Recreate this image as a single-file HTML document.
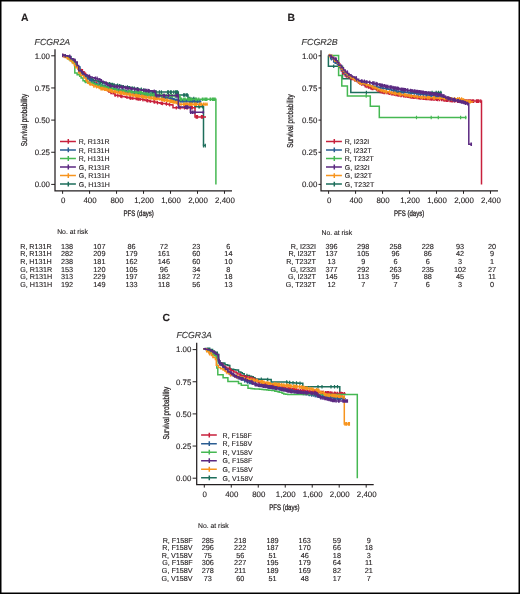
<!DOCTYPE html>
<html><head><meta charset="utf-8"><title>Survival curves</title>
<style>html,body{margin:0;padding:0;background:#fff;}body{width:520px;height:594px;overflow:hidden;font-family:"Liberation Sans",sans-serif;}svg{display:block;}svg{will-change:transform}</style>
</head><body>
<svg width="520" height="594" viewBox="0 0 520 594" font-family="Liberation Sans, sans-serif" fill="#231f20" text-rendering="geometricPrecision"><rect x="0.75" y="0.75" width="518.5" height="592.5" fill="#fff" stroke="#000" stroke-width="1.5"/>
<text x="21.00" y="20.90" font-size="10.4" font-weight="bold" stroke="#231f20" stroke-width="0.12">A</text>
<text x="34.60" y="44.70" font-size="8.8" textLength="35.6" lengthAdjust="spacingAndGlyphs" font-style="italic" fill="#3c3c3c" stroke="#231f20" stroke-width="0.12">FCGR2A</text>
<text x="50.00" y="58.65" font-size="7.9" text-anchor="end" stroke="#231f20" stroke-width="0.12">1.00</text>
<text x="50.00" y="90.80" font-size="7.9" text-anchor="end" stroke="#231f20" stroke-width="0.12">0.75</text>
<text x="50.00" y="122.95" font-size="7.9" text-anchor="end" stroke="#231f20" stroke-width="0.12">0.50</text>
<text x="50.00" y="155.10" font-size="7.9" text-anchor="end" stroke="#231f20" stroke-width="0.12">0.25</text>
<text x="50.00" y="187.25" font-size="7.9" text-anchor="end" stroke="#231f20" stroke-width="0.12">0.00</text>
<text x="63.10" y="202.90" font-size="7.9" text-anchor="middle" stroke="#231f20" stroke-width="0.12">0</text>
<text x="90.08" y="202.90" font-size="7.9" text-anchor="middle" stroke="#231f20" stroke-width="0.12">400</text>
<text x="117.06" y="202.90" font-size="7.9" text-anchor="middle" stroke="#231f20" stroke-width="0.12">800</text>
<text x="144.04" y="202.90" font-size="7.9" text-anchor="middle" stroke="#231f20" stroke-width="0.12">1,200</text>
<text x="171.02" y="202.90" font-size="7.9" text-anchor="middle" stroke="#231f20" stroke-width="0.12">1,600</text>
<text x="198.00" y="202.90" font-size="7.9" text-anchor="middle" stroke="#231f20" stroke-width="0.12">2,000</text>
<text x="224.98" y="202.90" font-size="7.9" text-anchor="middle" stroke="#231f20" stroke-width="0.12">2,400</text>
<path d="M55.00 49.30V190.90H232.00" fill="none" stroke="#231f20" stroke-width="1.25"/>
<path d="M51.20 55.80H55.00" stroke="#231f20" stroke-width="1"/>
<path d="M51.20 87.95H55.00" stroke="#231f20" stroke-width="1"/>
<path d="M51.20 120.10H55.00" stroke="#231f20" stroke-width="1"/>
<path d="M51.20 152.25H55.00" stroke="#231f20" stroke-width="1"/>
<path d="M51.20 184.40H55.00" stroke="#231f20" stroke-width="1"/>
<path d="M62.60 190.90V193.80" stroke="#231f20" stroke-width="1"/>
<path d="M89.58 190.90V193.80" stroke="#231f20" stroke-width="1"/>
<path d="M116.56 190.90V193.80" stroke="#231f20" stroke-width="1"/>
<path d="M143.54 190.90V193.80" stroke="#231f20" stroke-width="1"/>
<path d="M170.52 190.90V193.80" stroke="#231f20" stroke-width="1"/>
<path d="M197.50 190.90V193.80" stroke="#231f20" stroke-width="1"/>
<path d="M224.48 190.90V193.80" stroke="#231f20" stroke-width="1"/>
<text x="138.70" y="216.00" font-size="8.0" text-anchor="middle" textLength="30.3" lengthAdjust="spacingAndGlyphs" stroke="#231f20" stroke-width="0.28">PFS (days)</text>
<text x="0" y="0" font-size="8.5" text-anchor="middle" stroke="#231f20" stroke-width="0.28" textLength="52.3" lengthAdjust="spacingAndGlyphs" transform="translate(26.90 120.00) rotate(-90)">Survival probability</text>
<text x="287.60" y="20.80" font-size="10.4" font-weight="bold" stroke="#231f20" stroke-width="0.12">B</text>
<text x="301.50" y="44.80" font-size="8.8" textLength="36.2" lengthAdjust="spacingAndGlyphs" font-style="italic" fill="#3c3c3c" stroke="#231f20" stroke-width="0.12">FCGR2B</text>
<text x="317.30" y="58.65" font-size="7.9" text-anchor="end" stroke="#231f20" stroke-width="0.12">1.00</text>
<text x="317.30" y="90.80" font-size="7.9" text-anchor="end" stroke="#231f20" stroke-width="0.12">0.75</text>
<text x="317.30" y="122.95" font-size="7.9" text-anchor="end" stroke="#231f20" stroke-width="0.12">0.50</text>
<text x="317.30" y="155.10" font-size="7.9" text-anchor="end" stroke="#231f20" stroke-width="0.12">0.25</text>
<text x="317.30" y="187.25" font-size="7.9" text-anchor="end" stroke="#231f20" stroke-width="0.12">0.00</text>
<text x="329.10" y="202.90" font-size="7.9" text-anchor="middle" stroke="#231f20" stroke-width="0.12">0</text>
<text x="356.08" y="202.90" font-size="7.9" text-anchor="middle" stroke="#231f20" stroke-width="0.12">400</text>
<text x="383.06" y="202.90" font-size="7.9" text-anchor="middle" stroke="#231f20" stroke-width="0.12">800</text>
<text x="410.04" y="202.90" font-size="7.9" text-anchor="middle" stroke="#231f20" stroke-width="0.12">1,200</text>
<text x="437.02" y="202.90" font-size="7.9" text-anchor="middle" stroke="#231f20" stroke-width="0.12">1,600</text>
<text x="464.00" y="202.90" font-size="7.9" text-anchor="middle" stroke="#231f20" stroke-width="0.12">2,000</text>
<text x="490.98" y="202.90" font-size="7.9" text-anchor="middle" stroke="#231f20" stroke-width="0.12">2,400</text>
<path d="M321.00 50.20V190.90H498.00" fill="none" stroke="#231f20" stroke-width="1.25"/>
<path d="M318.50 55.80H321.00" stroke="#231f20" stroke-width="1"/>
<path d="M318.50 87.95H321.00" stroke="#231f20" stroke-width="1"/>
<path d="M318.50 120.10H321.00" stroke="#231f20" stroke-width="1"/>
<path d="M318.50 152.25H321.00" stroke="#231f20" stroke-width="1"/>
<path d="M318.50 184.40H321.00" stroke="#231f20" stroke-width="1"/>
<path d="M328.60 190.90V193.80" stroke="#231f20" stroke-width="1"/>
<path d="M355.58 190.90V193.80" stroke="#231f20" stroke-width="1"/>
<path d="M382.56 190.90V193.80" stroke="#231f20" stroke-width="1"/>
<path d="M409.54 190.90V193.80" stroke="#231f20" stroke-width="1"/>
<path d="M436.52 190.90V193.80" stroke="#231f20" stroke-width="1"/>
<path d="M463.50 190.90V193.80" stroke="#231f20" stroke-width="1"/>
<path d="M490.48 190.90V193.80" stroke="#231f20" stroke-width="1"/>
<text x="409.10" y="216.30" font-size="8.0" text-anchor="middle" textLength="30.3" lengthAdjust="spacingAndGlyphs" stroke="#231f20" stroke-width="0.28">PFS (days)</text>
<text x="0" y="0" font-size="8.5" text-anchor="middle" stroke="#231f20" stroke-width="0.28" textLength="53.3" lengthAdjust="spacingAndGlyphs" transform="translate(293.00 121.10) rotate(-90)">Survival probability</text>
<text x="162.60" y="321.40" font-size="10.4" font-weight="bold" stroke="#231f20" stroke-width="0.12">C</text>
<text x="176.50" y="338.30" font-size="8.8" textLength="35.3" lengthAdjust="spacingAndGlyphs" font-style="italic" fill="#3c3c3c" stroke="#231f20" stroke-width="0.12">FCGR3A</text>
<text x="191.40" y="352.45" font-size="7.9" text-anchor="end" stroke="#231f20" stroke-width="0.12">1.00</text>
<text x="191.40" y="384.60" font-size="7.9" text-anchor="end" stroke="#231f20" stroke-width="0.12">0.75</text>
<text x="191.40" y="416.75" font-size="7.9" text-anchor="end" stroke="#231f20" stroke-width="0.12">0.50</text>
<text x="191.40" y="448.90" font-size="7.9" text-anchor="end" stroke="#231f20" stroke-width="0.12">0.25</text>
<text x="191.40" y="481.05" font-size="7.9" text-anchor="end" stroke="#231f20" stroke-width="0.12">0.00</text>
<text x="204.80" y="496.70" font-size="7.9" text-anchor="middle" stroke="#231f20" stroke-width="0.12">0</text>
<text x="231.78" y="496.70" font-size="7.9" text-anchor="middle" stroke="#231f20" stroke-width="0.12">400</text>
<text x="258.76" y="496.70" font-size="7.9" text-anchor="middle" stroke="#231f20" stroke-width="0.12">800</text>
<text x="285.74" y="496.70" font-size="7.9" text-anchor="middle" stroke="#231f20" stroke-width="0.12">1,200</text>
<text x="312.72" y="496.70" font-size="7.9" text-anchor="middle" stroke="#231f20" stroke-width="0.12">1,600</text>
<text x="339.70" y="496.70" font-size="7.9" text-anchor="middle" stroke="#231f20" stroke-width="0.12">2,000</text>
<text x="366.68" y="496.70" font-size="7.9" text-anchor="middle" stroke="#231f20" stroke-width="0.12">2,400</text>
<path d="M196.70 342.80V484.70H373.70" fill="none" stroke="#231f20" stroke-width="1.25"/>
<path d="M192.60 349.60H196.70" stroke="#231f20" stroke-width="1"/>
<path d="M192.60 381.75H196.70" stroke="#231f20" stroke-width="1"/>
<path d="M192.60 413.90H196.70" stroke="#231f20" stroke-width="1"/>
<path d="M192.60 446.05H196.70" stroke="#231f20" stroke-width="1"/>
<path d="M192.60 478.20H196.70" stroke="#231f20" stroke-width="1"/>
<path d="M204.30 484.70V487.60" stroke="#231f20" stroke-width="1"/>
<path d="M231.28 484.70V487.60" stroke="#231f20" stroke-width="1"/>
<path d="M258.26 484.70V487.60" stroke="#231f20" stroke-width="1"/>
<path d="M285.24 484.70V487.60" stroke="#231f20" stroke-width="1"/>
<path d="M312.22 484.70V487.60" stroke="#231f20" stroke-width="1"/>
<path d="M339.20 484.70V487.60" stroke="#231f20" stroke-width="1"/>
<path d="M366.18 484.70V487.60" stroke="#231f20" stroke-width="1"/>
<text x="284.40" y="510.20" font-size="8.0" text-anchor="middle" textLength="30.3" lengthAdjust="spacingAndGlyphs" stroke="#231f20" stroke-width="0.28">PFS (days)</text>
<text x="0" y="0" font-size="8.5" text-anchor="middle" stroke="#231f20" stroke-width="0.28" textLength="52.8" lengthAdjust="spacingAndGlyphs" transform="translate(168.60 413.20) rotate(-90)">Survival probability</text>
<path d="M62.30 55.30H64.14V55.77H65.99V56.23H68.60V56.70H70.96V58.63H72.23V60.57H75.00V62.50H77.00V67.00H79.20V72.10H81.49V73.53H83.46V74.97H85.90V76.40H87.24V77.53H89.78V78.67H91.70V79.80H93.21V80.43H96.06V81.07H98.40V81.70H100.08V82.20H102.51V82.70H105.47V83.20H108.00V83.70H110.61V84.12H111.69V84.55H113.96V84.97H116.69V85.40H119.29V85.83H120.86V86.25H122.72V86.67H125.00V87.10H127.86V87.43H128.61V87.76H131.97V88.09H133.26V88.41H135.18V88.74H137.28V89.07H140.00V89.40H141.73V89.94H144.44V90.48H145.55V91.02H148.11V91.56H150.00V92.10H178.30V95.00H188.00V98.60H195.00V106.80H203.50V145.60H205.80" fill="none" stroke="#1d6e5b" stroke-width="1.5" stroke-linejoin="miter"/>
<path d="M74.95 58.77v3.60M85.08 73.17v3.60M88.93 75.73v3.60M90.10 76.87v3.60M92.86 78.00v3.60M98.08 79.27v3.60M100.44 80.40v3.60M100.64 80.40v3.60M104.26 80.90v3.60M102.52 80.90v3.60M109.35 81.90v3.60M109.77 81.90v3.60M112.58 82.75v3.60M111.93 82.75v3.60M114.15 83.17v3.60M117.57 83.60v3.60M119.53 84.03v3.60M120.91 84.45v3.60M123.06 84.88v3.60M123.51 84.88v3.60M127.43 85.30v3.60M128.89 85.96v3.60M129.76 85.96v3.60M132.17 86.29v3.60M134.27 86.61v3.60M134.30 86.61v3.60M137.24 86.94v3.60M137.99 87.27v3.60M137.74 87.27v3.60M141.35 87.60v3.60M143.93 88.14v3.60M145.34 88.68v3.60M146.13 89.22v3.60M146.46 89.22v3.60M148.64 89.76v3.60M177.07 90.30v3.60M176.52 90.30v3.60M177.03 90.30v3.60M156.24 90.30v3.60M155.57 90.30v3.60M167.66 90.30v3.60M173.78 90.30v3.60M168.48 90.30v3.60M152.40 90.30v3.60M175.75 90.30v3.60M171.23 90.30v3.60M155.05 90.30v3.60M159.41 90.30v3.60M177.50 90.30v3.60M161.36 90.30v3.60M170.51 90.30v3.60M153.60 90.30v3.60M175.61 90.30v3.60M186.32 93.20v3.60M184.68 93.20v3.60M183.62 93.20v3.60M178.44 93.20v3.60M184.60 93.20v3.60M187.36 93.20v3.60M193.78 96.80v3.60M189.76 96.80v3.60M189.68 96.80v3.60M189.82 96.80v3.60M188.92 96.80v3.60M198.89 105.00v3.60M202.69 105.00v3.60M202.80 105.00v3.60M199.52 105.00v3.60M195.16 105.00v3.60M203.51 143.80v3.60M205.30 143.80v3.60" stroke="#1d6e5b" stroke-width="1.2"/>
<path d="M62.30 55.60H64.34V56.55H67.60V57.50H70.00V59.25H72.50V61.00H74.53V63.50H76.00V66.00H78.20V69.20H80.60V69.70H82.37V71.65H84.00V73.60H85.67V76.00H87.82V78.40H89.70V80.80H92.19V82.00H94.50V83.20H96.84V84.65H98.40V86.10H99.78V87.30H102.20V88.50H104.21V89.30H105.73V90.10H108.00V90.90H109.97V92.33H113.11V93.77H115.00V95.20H117.15V95.61H119.38V96.03H121.82V96.44H124.19V96.86H125.63V97.27H128.03V97.69H130.00V98.10H132.01V98.32H134.02V98.54H136.27V98.76H137.93V98.98H140.00V99.20H142.56V99.80H145.00V100.40H147.11V100.80H149.95V101.20H151.73V101.60H154.14V102.00H156.38V102.40H157.50V102.80H160.00V103.20H162.50V103.56H165.54V103.92H167.77V104.28H168.99V104.64H172.00V105.00H173.00V107.70H195.00V116.90H206.00" fill="none" stroke="#c8203c" stroke-width="1.5" stroke-linejoin="miter"/>
<path d="M63.20 53.80v3.60M84.85 71.80v3.60M96.41 81.40v3.60M105.43 87.50v3.60M108.67 89.10v3.60M110.81 90.53v3.60M111.62 90.53v3.60M115.11 93.40v3.60M117.83 93.81v3.60M120.60 94.23v3.60M121.86 94.64v3.60M126.95 95.47v3.60M129.87 95.89v3.60M130.87 96.30v3.60M132.80 96.52v3.60M136.23 96.74v3.60M137.45 96.96v3.60M138.65 97.18v3.60M140.18 97.40v3.60M142.96 98.00v3.60M146.84 98.60v3.60M147.80 99.00v3.60M150.23 99.40v3.60M154.04 99.80v3.60M154.68 100.20v3.60M157.50 101.00v3.60M161.26 101.40v3.60M162.52 101.76v3.60M166.43 102.12v3.60M169.69 102.84v3.60M187.47 105.90v3.60M192.34 105.90v3.60M180.17 105.90v3.60M176.29 105.90v3.60M187.15 105.90v3.60M191.38 105.90v3.60M186.80 105.90v3.60M190.87 105.90v3.60M184.52 105.90v3.60M191.37 105.90v3.60M201.42 115.10v3.60M202.51 115.10v3.60M197.53 115.10v3.60M196.46 115.10v3.60M196.15 115.10v3.60" stroke="#c8203c" stroke-width="1.2"/>
<path d="M62.30 55.60H65.06V56.55H67.60V57.50H70.54V59.50H73.00V61.50H75.18V64.25H77.00V67.00H80.00V72.00H82.25V73.83H83.99V75.67H86.00V77.50H87.39V79.05H90.69V80.60H92.74V82.15H94.50V83.70H96.75V84.33H99.06V84.97H101.50V85.60H102.82V86.23H106.12V86.87H108.00V87.50H109.76V88.03H111.62V88.55H114.03V89.08H116.84V89.60H118.19V90.12H121.11V90.65H123.58V91.17H125.00V91.70H127.18V91.99H129.20V92.28H131.53V92.56H134.03V92.85H136.35V93.14H138.30V93.42H140.53V93.71H141.85V94.00H144.15V94.29H146.50V94.58H149.43V94.86H150.95V95.15H153.54V95.44H154.88V95.72H157.14V96.01H160.00V96.30H161.89V96.86H164.77V97.42H167.05V97.99H169.28V98.55H170.92V99.11H173.53V99.67H175.69V100.24H178.00V100.80H180.07V100.86H181.68V100.92H184.96V100.99H186.05V101.05H189.34V101.11H191.40V101.17H192.16V101.24H195.00V101.30H196.94V101.40H199.45V101.50H201.00V101.60" fill="none" stroke="#2a5d92" stroke-width="1.5" stroke-linejoin="miter"/>
<path d="M69.03 55.70v3.60M80.11 70.20v3.60M83.14 72.03v3.60M87.00 75.70v3.60M89.52 77.25v3.60M91.66 78.80v3.60M94.88 81.90v3.60M99.05 82.53v3.60M99.53 83.17v3.60M99.89 83.17v3.60M101.84 83.80v3.60M105.30 84.43v3.60M104.18 84.43v3.60M104.06 84.43v3.60M108.88 85.70v3.60M110.16 86.23v3.60M110.22 86.23v3.60M113.72 86.75v3.60M115.36 87.28v3.60M118.91 88.33v3.60M118.64 88.33v3.60M123.44 88.85v3.60M122.71 88.85v3.60M122.24 88.85v3.60M124.69 89.38v3.60M126.41 89.90v3.60M125.28 89.90v3.60M128.59 90.19v3.60M127.32 90.19v3.60M130.10 90.48v3.60M130.60 90.48v3.60M132.68 90.76v3.60M133.14 90.76v3.60M134.57 91.05v3.60M136.26 91.05v3.60M136.39 91.34v3.60M137.67 91.34v3.60M139.79 91.62v3.60M138.81 91.62v3.60M141.09 91.91v3.60M143.68 92.20v3.60M143.01 92.20v3.60M144.88 92.49v3.60M144.69 92.49v3.60M145.94 92.49v3.60M147.95 92.78v3.60M147.15 92.78v3.60M148.45 92.78v3.60M150.03 93.06v3.60M151.32 93.35v3.60M151.11 93.35v3.60M153.28 93.35v3.60M154.88 93.64v3.60M155.30 93.92v3.60M156.57 93.92v3.60M158.22 94.21v3.60M158.09 94.21v3.60M157.15 94.21v3.60M161.80 94.50v3.60M161.82 94.50v3.60M164.26 95.06v3.60M163.13 95.06v3.60M163.25 95.06v3.60M165.21 95.62v3.60M166.82 95.62v3.60M165.71 95.62v3.60M167.14 96.19v3.60M167.19 96.19v3.60M170.51 96.75v3.60M171.63 97.31v3.60M172.53 97.31v3.60M174.21 97.88v3.60M173.53 97.88v3.60M177.16 98.44v3.60M175.75 98.44v3.60M176.79 98.44v3.60M178.80 99.00v3.60M178.89 99.00v3.60M180.37 99.06v3.60M181.26 99.06v3.60M183.67 99.12v3.60M182.73 99.12v3.60M184.25 99.12v3.60M185.78 99.19v3.60M186.16 99.25v3.60M187.12 99.25v3.60M188.95 99.25v3.60M189.51 99.31v3.60M190.36 99.31v3.60M191.58 99.38v3.60M194.07 99.44v3.60M194.57 99.44v3.60M192.50 99.44v3.60M196.10 99.50v3.60M196.43 99.50v3.60M197.56 99.60v3.60M199.16 99.60v3.60M200.06 99.70v3.60" stroke="#2a5d92" stroke-width="1.2"/>
<path d="M62.30 55.50H64.96V56.75H67.60V58.00H69.17V59.83H71.88V61.67H73.40V63.50H74.80V73.10H77.13V74.70H79.72V76.30H81.10V77.90H83.00V80.80H84.73V81.54H87.76V82.28H90.74V83.02H93.17V83.76H95.00V84.50H97.80V85.08H98.64V85.67H101.19V86.25H103.09V86.83H105.36V87.42H108.00V88.00H111.19V88.60H112.94V89.20H115.92V89.80H117.39V90.40H120.00V91.00H122.79V91.20H124.37V91.40H126.29V91.60H129.32V91.80H131.80V92.00H132.72V92.20H135.71V92.40H137.96V92.60H140.00V92.80H141.60V93.24H143.82V93.68H145.50V94.12H147.59V94.56H150.00V95.00H151.78V95.08H154.46V95.15H156.69V95.23H158.17V95.31H160.03V95.38H162.66V95.46H165.35V95.54H166.76V95.62H169.10V95.69H171.09V95.77H174.14V95.85H175.92V95.92H178.00V96.00H180.00V99.20H215.90V184.40" fill="none" stroke="#45b852" stroke-width="1.5" stroke-linejoin="miter"/>
<path d="M85.33 79.74v3.60M86.19 79.74v3.60M92.76 81.22v3.60M95.34 82.70v3.60M100.57 83.87v3.60M100.77 83.87v3.60M101.77 84.45v3.60M104.10 85.03v3.60M106.99 85.62v3.60M109.46 86.20v3.60M109.51 86.20v3.60M108.41 86.20v3.60M111.97 86.80v3.60M114.84 87.40v3.60M115.13 87.40v3.60M116.00 88.00v3.60M119.87 88.60v3.60M122.28 89.20v3.60M122.74 89.20v3.60M124.23 89.40v3.60M124.03 89.40v3.60M125.04 89.60v3.60M129.01 89.80v3.60M128.76 89.80v3.60M131.61 90.00v3.60M129.97 90.00v3.60M131.84 90.20v3.60M135.52 90.40v3.60M135.39 90.40v3.60M135.97 90.60v3.60M137.14 90.60v3.60M139.09 90.80v3.60M139.76 90.80v3.60M141.01 91.00v3.60M141.28 91.00v3.60M142.88 91.44v3.60M143.30 91.44v3.60M145.07 91.88v3.60M146.03 92.32v3.60M147.55 92.32v3.60M148.34 92.76v3.60M147.67 92.76v3.60M150.77 93.20v3.60M151.60 93.20v3.60M153.53 93.28v3.60M151.79 93.28v3.60M155.25 93.35v3.60M157.56 93.43v3.60M159.05 93.51v3.60M159.91 93.51v3.60M160.28 93.58v3.60M162.32 93.58v3.60M163.37 93.66v3.60M164.39 93.66v3.60M166.26 93.74v3.60M168.48 93.82v3.60M168.88 93.82v3.60M169.91 93.89v3.60M169.22 93.89v3.60M172.77 93.97v3.60M171.52 93.97v3.60M175.04 94.05v3.60M175.59 94.05v3.60M176.54 94.12v3.60M179.57 94.20v3.60M178.01 94.20v3.60M196.70 97.40v3.60M196.24 97.40v3.60M183.78 97.40v3.60M181.39 97.40v3.60M206.91 97.40v3.60M210.35 97.40v3.60M189.55 97.40v3.60M195.65 97.40v3.60M198.78 97.40v3.60M203.05 97.40v3.60M187.79 97.40v3.60M180.55 97.40v3.60M188.48 97.40v3.60M213.91 97.40v3.60M191.73 97.40v3.60M191.80 97.40v3.60M212.58 97.40v3.60M204.87 97.40v3.60M215.15 97.40v3.60M210.15 97.40v3.60M210.79 97.40v3.60M206.01 97.40v3.60M191.05 97.40v3.60M202.35 97.40v3.60M212.70 97.40v3.60M180.97 97.40v3.60M213.35 97.40v3.60M185.09 97.40v3.60M181.50 97.40v3.60" stroke="#45b852" stroke-width="1.2"/>
<path d="M62.30 56.00H65.20V57.55H67.60V59.10H70.33V61.05H72.40V63.00H74.38V65.40H75.80V67.80H78.70V73.10H80.54V75.50H84.00V77.90H86.02V80.55H87.80V83.20H89.55V84.17H92.10V85.13H93.60V86.10H95.93V86.73H97.92V87.37H99.30V88.00H100.81V88.60H104.21V89.20H106.46V89.80H108.00V90.40H110.79V90.85H111.67V91.30H113.94V91.75H115.92V92.20H117.93V92.65H121.27V93.10H123.34V93.55H125.00V94.00H127.34V94.33H129.77V94.66H131.63V94.99H133.25V95.31H135.11V95.64H137.25V95.97H140.00V96.30H142.36V96.62H143.59V96.94H145.75V97.26H147.89V97.58H150.00V97.90H151.33V98.16H153.66V98.42H155.70V98.68H158.30V98.94H160.00V99.20H161.94V99.67H164.02V100.14H167.12V100.61H168.58V101.09H171.24V101.56H173.03V102.03H175.00V102.50H178.00V104.20H207.70" fill="none" stroke="#f7941d" stroke-width="1.5" stroke-linejoin="miter"/>
<path d="M67.27 55.75v3.60M70.27 57.30v3.60M77.65 66.00v3.60M80.34 71.30v3.60M83.60 73.70v3.60M86.60 78.75v3.60M90.15 82.37v3.60M93.96 84.30v3.60M96.58 84.93v3.60M99.25 85.57v3.60M102.29 86.80v3.60M102.98 86.80v3.60M101.52 86.80v3.60M100.93 86.80v3.60M105.77 87.40v3.60M105.63 87.40v3.60M104.53 87.40v3.60M107.12 88.00v3.60M109.17 88.60v3.60M110.16 88.60v3.60M111.38 89.05v3.60M112.38 89.50v3.60M111.89 89.50v3.60M115.35 89.95v3.60M114.43 89.95v3.60M117.17 90.40v3.60M120.12 90.85v3.60M119.23 90.85v3.60M121.18 90.85v3.60M121.60 91.30v3.60M123.22 91.30v3.60M124.29 91.75v3.60M126.20 92.20v3.60M126.94 92.20v3.60M125.96 92.20v3.60M129.01 92.53v3.60M129.20 92.53v3.60M130.43 92.86v3.60M130.28 92.86v3.60M132.31 93.19v3.60M133.91 93.51v3.60M133.67 93.51v3.60M136.24 93.84v3.60M136.83 93.84v3.60M135.57 93.84v3.60M139.48 94.17v3.60M138.54 94.17v3.60M137.87 94.17v3.60M141.51 94.50v3.60M141.93 94.50v3.60M143.03 94.82v3.60M144.35 95.14v3.60M144.16 95.14v3.60M144.13 95.14v3.60M145.75 95.46v3.60M146.35 95.46v3.60M148.90 95.78v3.60M149.24 95.78v3.60M151.23 96.10v3.60M153.26 96.36v3.60M153.16 96.36v3.60M154.95 96.62v3.60M153.68 96.62v3.60M156.35 96.88v3.60M156.07 96.88v3.60M157.72 96.88v3.60M159.84 97.14v3.60M161.73 97.40v3.60M161.52 97.40v3.60M163.58 97.87v3.60M162.35 97.87v3.60M163.04 97.87v3.60M166.76 98.34v3.60M164.84 98.34v3.60M164.45 98.34v3.60M167.80 98.81v3.60M169.90 99.29v3.60M170.88 99.29v3.60M170.82 99.29v3.60M172.43 99.76v3.60M171.91 99.76v3.60M173.18 100.23v3.60M174.28 100.23v3.60M174.23 100.23v3.60M175.99 100.70v3.60M176.53 100.70v3.60M177.69 100.70v3.60M177.15 100.70v3.60M203.59 102.40v3.60M192.09 102.40v3.60M200.89 102.40v3.60M190.93 102.40v3.60M194.45 102.40v3.60M186.70 102.40v3.60M189.99 102.40v3.60M186.07 102.40v3.60M206.96 102.40v3.60M201.52 102.40v3.60M187.42 102.40v3.60M195.42 102.40v3.60M201.29 102.40v3.60M199.46 102.40v3.60M194.20 102.40v3.60M186.92 102.40v3.60M183.64 102.40v3.60M196.08 102.40v3.60M201.43 102.40v3.60M196.17 102.40v3.60M196.62 102.40v3.60M195.71 102.40v3.60M184.31 102.40v3.60M191.60 102.40v3.60M181.01 102.40v3.60M179.10 102.40v3.60M205.15 102.40v3.60M188.96 102.40v3.60M201.36 102.40v3.60M185.66 102.40v3.60M190.53 102.40v3.60" stroke="#f7941d" stroke-width="1.2"/>
<path d="M62.30 55.30H64.82V55.80H67.60V56.30H70.50V58.70H73.14V60.35H75.30V62.00H77.20V65.40H78.70V70.70H81.50V72.35H83.00V74.00H84.33V74.80H86.96V75.60H88.80V76.40H90.09V77.07H92.09V77.73H94.50V78.40H97.42V79.10H99.30V79.80H101.35V81.25H103.20V82.70H106.30V84.15H108.00V85.60H110.25V85.90H111.87V86.20H115.00V86.50H116.97V86.79H119.42V87.07H122.09V87.36H124.29V87.64H125.68V87.93H127.73V88.21H130.00V88.50H131.44V88.80H134.20V89.10H135.60V89.40H137.51V89.70H140.00V90.00H141.46V90.21H143.66V90.43H146.93V90.64H148.27V90.86H151.79V91.07H152.65V91.29H155.50V91.50V95.60H178.30V107.10H190.40V112.30H204.20" fill="none" stroke="#5b2981" stroke-width="1.5" stroke-linejoin="miter"/>
<path d="M62.63 53.50v3.60M65.34 54.00v3.60M69.72 54.50v3.60M74.69 58.55v3.60M89.53 74.60v3.60M95.40 76.60v3.60M97.09 76.60v3.60M99.88 78.00v3.60M105.95 80.90v3.60M107.27 82.35v3.60M109.81 83.80v3.60M110.81 84.10v3.60M114.37 84.40v3.60M116.20 84.70v3.60M117.48 84.99v3.60M121.53 85.27v3.60M119.66 85.27v3.60M122.60 85.56v3.60M125.52 85.84v3.60M126.88 86.13v3.60M128.14 86.41v3.60M130.81 86.70v3.60M131.85 87.00v3.60M134.72 87.30v3.60M137.11 87.60v3.60M138.37 87.90v3.60M143.64 88.41v3.60M145.51 88.63v3.60M146.21 88.63v3.60M147.96 88.84v3.60M149.17 89.06v3.60M148.98 89.06v3.60M154.24 89.49v3.60M177.10 93.80v3.60M156.96 93.80v3.60M164.56 93.80v3.60M177.37 93.80v3.60M168.37 93.80v3.60M177.31 93.80v3.60M164.46 93.80v3.60M159.14 93.80v3.60M178.11 93.80v3.60M156.38 93.80v3.60M163.53 93.80v3.60M176.12 93.80v3.60M187.82 105.30v3.60M186.12 105.30v3.60M178.97 105.30v3.60M187.43 105.30v3.60M186.49 105.30v3.60M185.46 105.30v3.60M194.87 110.50v3.60M192.11 110.50v3.60M192.73 110.50v3.60M192.38 110.50v3.60M190.57 110.50v3.60M193.09 110.50v3.60M203.20 110.50v3.60" stroke="#5b2981" stroke-width="1.2"/>
<path d="M328.40 55.60V66.30H342.50V78.80H350.80V92.50H441.90" fill="none" stroke="#1d6e5b" stroke-width="1.5" stroke-linejoin="miter"/>
<path d="M333.70 64.50v3.60M366.40 90.70v3.60M432.10 90.70v3.60M436.20 90.70v3.60M438.50 90.70v3.60M440.80 90.70v3.60" stroke="#1d6e5b" stroke-width="1.2"/>
<path d="M328.40 55.60H331.86V58.05H333.70V60.50H336.09V62.25H337.50V64.00H339.98V67.50H341.40V71.00H342.82V73.50H345.20V76.00H347.06V76.83H348.52V77.67H351.00V78.50H354.34V80.00H356.75V81.50H358.70V83.00H360.81V83.87H362.50V84.73H364.50V85.60H366.19V86.40H368.73V87.20H370.20V88.00H372.10V88.50H374.24V89.00H376.00V89.50H377.50V90.50H380.00V91.50H381.79V91.93H383.75V92.37H387.00V92.80H388.97V93.23H390.56V93.67H393.91V94.10H395.19V94.53H397.64V94.97H400.00V95.40H401.69V95.69H404.09V95.98H407.19V96.27H408.63V96.56H410.59V96.84H413.32V97.13H415.27V97.42H418.40V97.71H420.00V98.00H421.62V98.17H425.19V98.33H425.98V98.50H429.50V98.67H431.37V98.83H432.88V99.00H435.52V99.17H437.45V99.33H440.00V99.50H441.78V99.73H443.84V99.96H446.22V100.19H449.31V100.41H451.46V100.64H453.49V100.87H455.00V101.10H481.50V184.40" fill="none" stroke="#c8203c" stroke-width="1.5" stroke-linejoin="miter"/>
<path d="M332.11 56.25v3.60M336.20 60.45v3.60M340.27 65.70v3.60M343.99 71.70v3.60M346.31 74.20v3.60M350.38 75.87v3.60M352.79 76.70v3.60M354.23 76.70v3.60M351.61 76.70v3.60M356.31 78.20v3.60M354.81 78.20v3.60M358.12 79.70v3.60M359.76 81.20v3.60M361.49 82.07v3.60M365.16 83.80v3.60M365.92 83.80v3.60M367.05 84.60v3.60M367.04 84.60v3.60M368.81 85.40v3.60M370.89 86.20v3.60M373.03 86.70v3.60M372.15 86.70v3.60M376.96 87.70v3.60M377.02 87.70v3.60M379.81 88.70v3.60M378.13 88.70v3.60M380.55 89.70v3.60M380.22 89.70v3.60M382.80 90.13v3.60M382.71 90.13v3.60M382.08 90.13v3.60M384.71 90.57v3.60M384.69 90.57v3.60M384.04 90.57v3.60M386.48 90.57v3.60M388.28 91.00v3.60M388.40 91.00v3.60M388.08 91.00v3.60M389.46 91.43v3.60M389.32 91.43v3.60M392.52 91.87v3.60M391.74 91.87v3.60M391.36 91.87v3.60M392.21 91.87v3.60M394.29 92.30v3.60M394.11 92.30v3.60M396.27 92.73v3.60M396.14 92.73v3.60M396.99 92.73v3.60M395.74 92.73v3.60M398.01 93.17v3.60M398.47 93.17v3.60M399.09 93.17v3.60M400.87 93.60v3.60M401.25 93.60v3.60M400.80 93.60v3.60M403.88 93.89v3.60M403.78 93.89v3.60M403.53 93.89v3.60M407.08 94.18v3.60M405.39 94.18v3.60M406.80 94.18v3.60M405.27 94.18v3.60M408.23 94.47v3.60M407.76 94.47v3.60M409.26 94.76v3.60M410.30 94.76v3.60M411.10 95.04v3.60M410.99 95.04v3.60M412.18 95.04v3.60M413.10 95.04v3.60M414.96 95.33v3.60M413.72 95.33v3.60M415.10 95.33v3.60M417.04 95.62v3.60M418.16 95.62v3.60M416.96 95.62v3.60M416.89 95.62v3.60M419.03 95.91v3.60M419.35 95.91v3.60M421.10 96.20v3.60M420.16 96.20v3.60M420.65 96.20v3.60M424.76 96.37v3.60M423.36 96.37v3.60M423.85 96.37v3.60M422.85 96.37v3.60M424.53 96.37v3.60M425.96 96.53v3.60M426.37 96.70v3.60M428.41 96.70v3.60M429.47 96.70v3.60M427.46 96.70v3.60M427.00 96.70v3.60M429.86 96.87v3.60M430.68 96.87v3.60M432.87 97.03v3.60M431.44 97.03v3.60M433.69 97.20v3.60M432.89 97.20v3.60M435.10 97.20v3.60M434.65 97.20v3.60M436.59 97.37v3.60M436.77 97.37v3.60M437.44 97.37v3.60M437.76 97.53v3.60M439.39 97.53v3.60M437.70 97.53v3.60M441.46 97.70v3.60M441.44 97.70v3.60M443.37 97.93v3.60M443.25 97.93v3.60M444.47 98.16v3.60M446.00 98.16v3.60M444.67 98.16v3.60M446.39 98.39v3.60M448.02 98.39v3.60M447.58 98.39v3.60M446.99 98.39v3.60M451.15 98.61v3.60M451.24 98.61v3.60M449.96 98.61v3.60M452.47 98.84v3.60M451.96 98.84v3.60M452.92 98.84v3.60M454.81 99.07v3.60M454.69 99.07v3.60M464.50 99.30v3.60M480.75 99.30v3.60M469.88 99.30v3.60M469.14 99.30v3.60M465.68 99.30v3.60M458.27 99.30v3.60M464.31 99.30v3.60M460.07 99.30v3.60M461.29 99.30v3.60M472.60 99.30v3.60M459.13 99.30v3.60M457.45 99.30v3.60M477.13 99.30v3.60M466.75 99.30v3.60M476.33 99.30v3.60M464.35 99.30v3.60M464.99 99.30v3.60M460.51 99.30v3.60M468.38 99.30v3.60M467.00 99.30v3.60M473.72 99.30v3.60M478.84 99.30v3.60M464.75 99.30v3.60M471.12 99.30v3.60M478.12 99.30v3.60M468.60 99.30v3.60M462.17 99.30v3.60M465.20 99.30v3.60M470.04 99.30v3.60M465.33 99.30v3.60M459.69 99.30v3.60M463.51 99.30v3.60M457.89 99.30v3.60M464.58 99.30v3.60M462.87 99.30v3.60" stroke="#c8203c" stroke-width="1.2"/>
<path d="M328.40 55.60H330.70V58.80H333.70V62.00H335.24V63.25H337.50V64.50H338.94V67.25H341.40V70.00H343.59V72.25H345.20V74.50H346.84V75.67H348.94V76.83H351.00V78.00H354.30V79.33H356.63V80.67H358.70V82.00H361.15V82.73H363.06V83.47H364.50V84.20H366.21V84.76H368.74V85.32H370.64V85.88H373.99V86.44H376.00V87.00H378.60V87.47H380.42V87.93H382.86V88.40H385.59V88.87H387.99V89.33H390.00V89.80H391.65V90.16H394.49V90.52H395.79V90.88H398.18V91.24H400.00V91.60H401.73V91.89H403.85V92.18H407.31V92.47H409.25V92.76H411.44V93.04H412.62V93.33H414.84V93.62H417.25V93.91H420.00V94.20H421.75V94.51H424.14V94.82H426.48V95.13H428.17V95.44H430.82V95.76H433.55V96.07H435.06V96.38H438.31V96.69H440.00V97.00H442.38V97.45H444.89V97.91H446.43V98.36H448.99V98.82H451.66V99.27H453.40V99.73H455.12V100.18H458.71V100.64H460.89V101.09H462.39V101.55H465.00V102.00" fill="none" stroke="#2a5d92" stroke-width="1.5" stroke-linejoin="miter"/>
<path d="M331.43 57.00v3.60M350.51 75.03v3.60M353.66 76.20v3.60M355.57 77.53v3.60M359.46 80.20v3.60M362.43 80.93v3.60M369.81 83.52v3.60M376.30 85.20v3.60M376.94 85.20v3.60M380.90 86.13v3.60M383.17 86.60v3.60M386.46 87.07v3.60M393.78 88.36v3.60M393.68 88.36v3.60M394.63 88.72v3.60M396.25 89.08v3.60M401.11 89.80v3.60M403.11 90.09v3.60M404.33 90.38v3.60M408.94 90.67v3.60M410.65 90.96v3.60M411.64 91.24v3.60M414.27 91.53v3.60M416.83 91.82v3.60M418.77 92.11v3.60M420.42 92.40v3.60M423.25 92.71v3.60M426.26 93.02v3.60M427.33 93.33v3.60M429.71 93.64v3.60M431.26 93.96v3.60M433.68 94.27v3.60M435.68 94.58v3.60M442.04 95.20v3.60M443.09 95.65v3.60M445.54 96.11v3.60M448.13 96.56v3.60M449.43 97.02v3.60M450.17 97.02v3.60M452.00 97.47v3.60M454.19 97.93v3.60M458.23 98.38v3.60M458.58 98.38v3.60M458.84 98.84v3.60M461.34 99.29v3.60M463.64 99.75v3.60M463.17 99.75v3.60" stroke="#2a5d92" stroke-width="1.2"/>
<path d="M328.40 55.60H338.60V75.40H341.80V85.90H347.40V95.90H370.30V106.30H379.30V117.50H466.50" fill="none" stroke="#45b852" stroke-width="1.5" stroke-linejoin="miter"/>
<path d="M366.20 94.10v3.60M416.50 115.70v3.60M431.20 115.70v3.60M438.30 115.70v3.60M460.60 115.70v3.60M465.70 115.70v3.60" stroke="#45b852" stroke-width="1.2"/>
<path d="M328.40 55.60H331.76V57.55H333.70V59.50H334.97V61.25H337.50V63.00H339.03V66.00H341.40V69.00H343.54V71.00H345.20V73.00H347.06V74.63H348.51V76.27H351.00V77.90H353.85V79.50H355.90V81.10H358.70V82.70H360.74V83.17H362.45V83.63H364.50V84.10H366.44V84.77H368.39V85.43H370.20V86.10H371.99V86.90H373.54V87.70H376.00V88.50H377.55V89.50H380.00V90.50H382.83V90.94H384.52V91.39H386.06V91.83H389.45V92.28H390.73V92.72H392.70V93.17H395.60V93.61H397.39V94.06H400.00V94.50H402.21V94.81H404.53V95.12H406.24V95.43H409.00V95.74H410.51V96.06H413.35V96.37H415.69V96.68H417.12V96.99H420.00V97.30H422.08V97.41H423.78V97.52H426.57V97.63H429.45V97.74H431.19V97.86H433.67V97.97H435.96V98.08H437.18V98.19H440.00V98.30H442.99V98.38H444.79V98.46H446.05V98.53H449.40V98.61H450.94V98.69H452.82V98.77H456.27V98.84H457.88V98.92H460.00V99.00H462.38V99.58H463.49V100.16H466.39V100.74H467.38V101.32H470.00V101.90H473.00V102.00" fill="none" stroke="#f7941d" stroke-width="1.5" stroke-linejoin="miter"/>
<path d="M329.65 53.80v3.60M343.16 67.20v3.60M350.51 74.47v3.60M352.93 76.10v3.60M355.05 77.70v3.60M359.83 80.90v3.60M361.39 81.37v3.60M366.34 82.30v3.60M366.73 82.97v3.60M369.84 83.63v3.60M372.73 85.10v3.60M375.04 85.90v3.60M377.66 87.70v3.60M381.32 88.70v3.60M383.43 89.14v3.60M385.03 89.59v3.60M389.41 90.03v3.60M386.56 90.03v3.60M391.72 90.92v3.60M394.23 91.37v3.60M395.66 91.81v3.60M399.67 92.26v3.60M399.04 92.26v3.60M400.62 92.70v3.60M404.39 93.01v3.60M405.84 93.32v3.60M407.99 93.63v3.60M409.61 93.94v3.60M411.43 94.26v3.60M414.21 94.57v3.60M417.51 95.19v3.60M420.94 95.50v3.60M422.59 95.61v3.60M424.62 95.72v3.60M428.16 95.83v3.60M427.55 95.83v3.60M429.59 95.94v3.60M433.64 96.06v3.60M434.65 96.17v3.60M439.72 96.39v3.60M440.07 96.50v3.60M444.26 96.58v3.60M445.04 96.66v3.60M448.22 96.73v3.60M448.51 96.73v3.60M449.52 96.81v3.60M451.58 96.89v3.60M454.67 96.97v3.60M457.75 97.04v3.60M459.47 97.12v3.60M461.62 97.20v3.60M463.62 98.36v3.60M468.95 99.52v3.60M470.04 100.10v3.60" stroke="#f7941d" stroke-width="1.2"/>
<path d="M328.40 55.60H331.17V57.35H333.70V59.10H336.25V60.80H337.50V62.50H338.84V65.15H341.40V67.80H343.45V69.95H345.20V72.10H347.44V73.40H348.84V74.70H351.00V76.00H352.36V76.95H354.80V77.90H356.28V79.35H358.70V80.80H360.15V81.10H362.93V81.40H364.50V81.70H365.85V82.03H368.72V82.37H370.20V82.70H372.03V83.17H374.12V83.63H376.00V84.10H378.12V84.75H380.00V85.40H382.31V85.82H384.69V86.24H386.82V86.67H388.63V87.09H391.49V87.51H392.96V87.93H395.88V88.36H398.19V88.78H400.00V89.20H402.65V89.52H404.15V89.84H407.09V90.17H409.63V90.49H411.04V90.81H412.99V91.13H415.59V91.46H418.46V91.78H420.00V92.10H421.65V92.42H423.68V92.74H426.63V93.07H429.13V93.39H431.54V93.71H433.12V94.03H436.32V94.36H437.35V94.68H440.00V95.00H442.95V96.15H445.00V97.30H446.43V97.88H448.34V98.46H450.49V99.04H452.38V99.62H455.00V100.20H457.00V100.78H459.08V101.36H460.55V101.94H463.62V102.52H465.00V103.10H466.72V103.65H468.80V104.20V144.20H471.60" fill="none" stroke="#5b2981" stroke-width="1.5" stroke-linejoin="miter"/>
<path d="M336.00 57.30v3.60M335.57 57.30v3.60M347.19 70.30v3.60M348.89 72.90v3.60M356.25 76.10v3.60M356.53 77.55v3.60M361.34 79.30v3.60M362.05 79.30v3.60M364.37 79.60v3.60M366.64 80.23v3.60M366.61 80.23v3.60M365.98 80.23v3.60M367.02 80.23v3.60M369.69 80.57v3.60M372.69 81.37v3.60M374.06 81.37v3.60M372.83 81.37v3.60M376.00 81.83v3.60M377.30 82.30v3.60M376.51 82.30v3.60M379.71 82.95v3.60M379.83 82.95v3.60M380.75 83.60v3.60M381.27 83.60v3.60M382.24 83.60v3.60M384.34 84.02v3.60M382.87 84.02v3.60M385.50 84.44v3.60M385.53 84.44v3.60M386.00 84.44v3.60M387.96 84.87v3.60M387.23 84.87v3.60M391.23 85.29v3.60M390.69 85.29v3.60M389.99 85.29v3.60M392.85 85.71v3.60M394.50 86.13v3.60M393.66 86.13v3.60M395.36 86.13v3.60M394.83 86.13v3.60M397.88 86.56v3.60M396.76 86.56v3.60M397.77 86.56v3.60M398.64 86.98v3.60M398.83 86.98v3.60M401.20 87.40v3.60M401.05 87.40v3.60M401.84 87.40v3.60M403.85 87.72v3.60M402.88 87.72v3.60M405.68 88.04v3.60M405.24 88.04v3.60M405.27 88.04v3.60M404.74 88.04v3.60M407.54 88.37v3.60M407.79 88.37v3.60M407.71 88.37v3.60M410.53 88.69v3.60M411.86 89.01v3.60M412.24 89.01v3.60M414.14 89.33v3.60M414.84 89.33v3.60M414.05 89.33v3.60M416.60 89.66v3.60M417.25 89.66v3.60M416.14 89.66v3.60M417.64 89.66v3.60M418.97 89.98v3.60M419.63 89.98v3.60M420.82 90.30v3.60M421.25 90.30v3.60M422.59 90.62v3.60M423.35 90.62v3.60M422.61 90.62v3.60M425.13 90.94v3.60M426.11 90.94v3.60M425.86 90.94v3.60M423.80 90.94v3.60M428.55 91.27v3.60M426.92 91.27v3.60M426.82 91.27v3.60M429.34 91.59v3.60M430.49 91.59v3.60M430.77 91.59v3.60M431.62 91.91v3.60M432.20 91.91v3.60M435.73 92.23v3.60M433.58 92.23v3.60M434.78 92.23v3.60M436.28 92.23v3.60M433.96 92.23v3.60M437.21 92.56v3.60M438.47 92.88v3.60M438.16 92.88v3.60M439.48 92.88v3.60M440.60 93.20v3.60M441.58 93.20v3.60M441.37 93.20v3.60M443.70 94.35v3.60M443.36 94.35v3.60M444.09 94.35v3.60M445.76 95.50v3.60M445.81 95.50v3.60M447.95 96.08v3.60M447.79 96.08v3.60M449.32 96.66v3.60M449.30 96.66v3.60M448.46 96.66v3.60M450.58 97.24v3.60M450.62 97.24v3.60M450.83 97.24v3.60M454.48 97.82v3.60M454.15 97.82v3.60M453.16 97.82v3.60M455.29 98.40v3.60M455.41 98.40v3.60M455.19 98.40v3.60M457.86 98.98v3.60M457.54 98.98v3.60M458.43 98.98v3.60M460.11 99.56v3.60M461.45 100.14v3.60M462.34 100.14v3.60M462.27 100.14v3.60M463.35 100.14v3.60M463.83 100.72v3.60M464.97 100.72v3.60M465.65 101.30v3.60M465.38 101.30v3.60M467.69 101.85v3.60M467.61 101.85v3.60M471.12 142.40v3.60M471.39 142.40v3.60M471.43 142.40v3.60M471.00 142.40v3.60" stroke="#5b2981" stroke-width="1.2"/>
<path d="M203.40 348.80H205.24V348.55H207.70V348.30H209.70V349.60H212.56V350.90H214.40V352.20H217.30V354.60H218.80V362.80H221.39V363.00H224.00V363.20H225.00V364.70H227.47V365.15H228.80V365.60H229.80V369.00H231.18V369.33H233.65V369.67H235.60V370.00H238.50V371.90H240.88V372.85H242.30V373.80H244.20V375.70H247.00V375.60H249.40V376.15H251.50V376.70H253.30V377.85H255.00V379.00H256.59V379.09H258.90V379.17H261.33V379.26H264.53V379.34H266.68V379.43H267.95V379.51H270.60V379.60H271.20V381.90H286.20H287.30V382.50H290.17V382.64H291.00V382.79H294.10V382.93H296.88V383.07H298.13V383.21H301.27V383.36H302.80V383.50V386.80H339.80V394.60H342.00" fill="none" stroke="#1d6e5b" stroke-width="1.5" stroke-linejoin="miter"/>
<path d="M246.90 373.80v3.60M261.30 377.44v3.60M267.70 377.69v3.60M286.70 380.37v3.60M289.60 380.85v3.60M293.00 381.07v3.60M296.50 381.29v3.60M300.00 381.52v3.60M318.00 385.00v3.60M322.00 385.00v3.60M331.00 385.00v3.60M334.50 385.00v3.60M337.50 385.00v3.60" stroke="#1d6e5b" stroke-width="1.2"/>
<path d="M203.40 348.80H205.79V349.40H207.70V350.00H209.34V351.25H212.50V352.50H214.18V354.25H216.30V356.00H218.30V361.00H220.00V364.50H223.00V366.10H225.06V367.26H226.90V368.42H229.78V369.58H231.08V370.74H233.70V371.90H236.22V372.93H237.60V373.97H240.00V375.00H241.40V375.70H244.08V376.40H245.43V377.10H248.07V377.80H250.00V378.50H252.84V379.50H254.89V380.50H257.04V381.50H258.69V382.50H261.86V383.50H264.20V384.50H265.86V384.94H269.06V385.39H270.54V385.83H273.57V386.28H275.52V386.72H277.86V387.17H280.64V387.61H282.15V388.06H285.00V388.50H286.65V388.79H289.95V389.07H291.18V389.36H294.08V389.64H296.27V389.93H297.83V390.21H300.00V390.50H301.68V390.72H303.81V390.94H307.26V391.17H308.29V391.39H311.11V391.61H313.39V391.83H314.96V392.06H317.73V392.28H320.00V392.50H321.72V392.64H324.56V392.77H326.76V392.91H328.79V393.05H330.77V393.19H333.35V393.33H335.28V393.46H338.00V393.60H339.72V393.67H342.24V393.73H345.00V393.80" fill="none" stroke="#c8203c" stroke-width="1.5" stroke-linejoin="miter"/>
<path d="M213.69 350.70v3.60M218.14 354.20v3.60M222.04 362.70v3.60M221.03 362.70v3.60M229.17 366.62v3.60M230.24 367.78v3.60M240.28 373.20v3.60M246.51 375.30v3.60M249.60 376.00v3.60M250.05 376.70v3.60M252.31 376.70v3.60M251.72 376.70v3.60M253.28 377.70v3.60M254.57 377.70v3.60M255.08 378.70v3.60M256.40 378.70v3.60M258.37 379.70v3.60M258.17 379.70v3.60M259.28 380.70v3.60M261.72 380.70v3.60M263.95 381.70v3.60M265.84 382.70v3.60M265.58 382.70v3.60M265.86 383.14v3.60M268.88 383.14v3.60M268.45 383.14v3.60M269.21 383.59v3.60M272.10 384.03v3.60M273.35 384.03v3.60M272.56 384.03v3.60M274.44 384.48v3.60M274.28 384.48v3.60M276.40 384.92v3.60M277.11 384.92v3.60M278.87 385.37v3.60M278.02 385.37v3.60M279.76 385.37v3.60M281.77 385.81v3.60M284.29 386.26v3.60M283.07 386.26v3.60M284.87 386.26v3.60M285.97 386.70v3.60M287.94 386.99v3.60M288.76 386.99v3.60M289.16 386.99v3.60M290.46 387.27v3.60M293.52 387.56v3.60M292.28 387.56v3.60M293.24 387.56v3.60M294.44 387.84v3.60M295.89 387.84v3.60M296.49 388.13v3.60M298.18 388.41v3.60M298.20 388.41v3.60M300.50 388.70v3.60M303.73 388.92v3.60M302.34 388.92v3.60M304.92 389.14v3.60M304.19 389.14v3.60M305.17 389.14v3.60M307.53 389.37v3.60M309.56 389.59v3.60M310.08 389.59v3.60M309.18 389.59v3.60M312.18 389.81v3.60M312.64 389.81v3.60M313.96 390.03v3.60M315.76 390.26v3.60M315.68 390.26v3.60M315.08 390.26v3.60M318.53 390.48v3.60M318.33 390.48v3.60M320.94 390.70v3.60M322.89 390.84v3.60M322.04 390.84v3.60M323.55 390.84v3.60M326.08 390.97v3.60M325.43 390.97v3.60M327.45 391.11v3.60M328.40 391.11v3.60M330.52 391.25v3.60M329.82 391.25v3.60M331.12 391.39v3.60M330.94 391.39v3.60M332.07 391.39v3.60M334.47 391.53v3.60M334.46 391.53v3.60M337.43 391.66v3.60M335.69 391.66v3.60M337.33 391.66v3.60M339.55 391.80v3.60M339.42 391.80v3.60M340.05 391.87v3.60M341.50 391.87v3.60M340.42 391.87v3.60M344.52 391.93v3.60M342.83 391.93v3.60M342.50 391.93v3.60" stroke="#c8203c" stroke-width="1.2"/>
<path d="M203.40 348.80H206.26V349.40H207.70V350.00H210.61V351.00H212.50V352.00H214.21V353.75H216.30V355.50H218.30V361.00H220.00V365.00H222.74V367.12H224.08V369.25H227.77V371.38H229.60V373.50H231.50V374.56H233.17V375.62H236.28V376.69H237.70V377.75H240.07V378.81H241.91V379.88H244.66V380.94H246.90V382.00H249.15V382.54H251.69V383.07H252.69V383.61H256.05V384.15H257.12V384.69H259.46V385.23H262.23V385.76H264.20V386.30H266.25V386.71H268.55V387.12H271.24V387.53H272.99V387.94H276.23V388.36H277.60V388.77H280.93V389.18H283.19V389.59H285.00V390.00H287.20V390.43H288.58V390.86H291.85V391.29H292.86V391.71H295.72V392.14H297.74V392.57H300.00V393.00H301.54V393.39H304.65V393.78H307.02V394.17H309.02V394.56H310.96V394.94H313.35V395.33H315.69V395.72H317.35V396.11H320.00V396.50H322.86V396.73H325.33V396.95H327.30V397.18H329.82V397.41H331.09V397.64H334.41V397.86H335.23V398.09H338.15V398.32H339.87V398.55H342.65V398.77H345.00V399.00" fill="none" stroke="#2a5d92" stroke-width="1.5" stroke-linejoin="miter"/>
<path d="M219.07 359.20v3.60M223.84 365.32v3.60M229.85 371.70v3.60M232.48 372.76v3.60M234.62 373.82v3.60M238.19 375.95v3.60M239.85 375.95v3.60M241.16 377.01v3.60M244.78 379.14v3.60M247.44 380.20v3.60M250.35 380.74v3.60M251.46 380.74v3.60M249.31 380.74v3.60M251.92 381.27v3.60M255.45 381.81v3.60M255.18 381.81v3.60M255.38 381.81v3.60M259.88 383.43v3.60M261.56 383.43v3.60M262.16 383.43v3.60M263.82 383.96v3.60M263.24 383.96v3.60M266.03 384.50v3.60M264.20 384.50v3.60M268.14 384.91v3.60M267.68 384.91v3.60M268.76 385.32v3.60M270.02 385.32v3.60M269.62 385.32v3.60M271.29 385.73v3.60M272.66 385.73v3.60M275.10 386.14v3.60M274.38 386.14v3.60M276.15 386.14v3.60M276.36 386.56v3.60M280.42 386.97v3.60M278.82 386.97v3.60M280.14 386.97v3.60M279.62 386.97v3.60M280.94 387.38v3.60M281.18 387.38v3.60M282.28 387.38v3.60M283.93 387.79v3.60M284.36 387.79v3.60M286.75 388.20v3.60M286.84 388.20v3.60M288.14 388.63v3.60M291.45 389.06v3.60M291.66 389.06v3.60M290.89 389.06v3.60M292.20 389.49v3.60M294.13 389.91v3.60M294.73 389.91v3.60M297.41 390.34v3.60M297.24 390.34v3.60M298.67 390.77v3.60M298.26 390.77v3.60M300.51 391.20v3.60M301.20 391.20v3.60M303.19 391.59v3.60M304.10 391.59v3.60M303.49 391.59v3.60M306.93 391.98v3.60M305.90 391.98v3.60M308.90 392.37v3.60M308.85 392.37v3.60M309.19 392.76v3.60M309.58 392.76v3.60M311.58 393.14v3.60M313.33 393.14v3.60M314.96 393.53v3.60M315.10 393.53v3.60M316.12 393.92v3.60M317.91 394.31v3.60M319.91 394.31v3.60M318.92 394.31v3.60M321.99 394.70v3.60M320.18 394.70v3.60M320.04 394.70v3.60M323.14 394.93v3.60M325.26 394.93v3.60M326.85 395.15v3.60M325.53 395.15v3.60M329.04 395.38v3.60M329.14 395.38v3.60M330.26 395.61v3.60M329.86 395.61v3.60M333.93 395.84v3.60M333.32 395.84v3.60M331.12 395.84v3.60M334.54 396.06v3.60M337.16 396.29v3.60M335.65 396.29v3.60M338.10 396.29v3.60M339.13 396.52v3.60M338.26 396.52v3.60M340.23 396.75v3.60M340.88 396.75v3.60M340.26 396.75v3.60M343.51 396.97v3.60M342.92 396.97v3.60" stroke="#2a5d92" stroke-width="1.2"/>
<path d="M203.40 348.80H206.60V350.40H208.70V352.00H210.10V353.25H212.00V354.50H214.06V355.75H216.50V357.00H216.80V368.00H217.80V374.80H223.10V377.70H227.90V381.50H238.50V383.40H241.30V385.30H248.00V388.30H250.77V388.50H252.22V388.70H254.50V388.90H256.87V389.10H259.48V389.30H262.00V389.50H264.08V389.72H266.83V389.94H268.85V390.16H271.80V390.38H273.50V390.60H274.80V391.17H277.52V391.73H279.20V392.30H282.04V393.15H283.80V394.00H285.70V394.20H287.70V394.40H290.80V394.60H357.30V478.30" fill="none" stroke="#45b852" stroke-width="1.5" stroke-linejoin="miter"/>
<path d="M203.40 348.80H206.70V351.70H209.00V353.60H211.50V355.50H212.93V357.45H215.40V359.40H216.30V365.20H218.30V367.60H220.63V368.80H223.10V370.00H225.28V371.27H226.36V372.53H228.80V373.80H230.59V375.00H233.70V376.20H235.77V376.57H237.42V376.93H240.00V377.30H241.62V377.76H243.92V378.22H245.47V378.68H247.40V379.14H250.00V379.60H252.01V380.06H254.40V380.51H257.35V380.97H258.97V381.42H260.44V381.88H262.90V382.33H265.94V382.79H267.88V383.24H270.00V383.70H272.70V383.94H274.98V384.19H276.97V384.43H277.99V384.67H281.38V384.91H282.89V385.16H284.61V385.40H286.65V385.64H289.83V385.89H291.00V386.13H292.95V386.37H295.36V386.61H298.49V386.86H300.00V387.10H302.07V387.49H304.59V387.88H305.74V388.26H308.43V388.65H310.35V389.04H312.31V389.43H315.12V389.81H317.00V390.20H318.81V391.38H320.47V392.55H323.68V393.72H325.00V394.90H327.12V395.12H328.81V395.34H330.70V395.57H333.81V395.79H335.74V396.01H337.15V396.23H339.97V396.46H342.52V396.68H344.30V396.90V423.90H349.60" fill="none" stroke="#f7941d" stroke-width="1.5" stroke-linejoin="miter"/>
<path d="M211.25 351.80v3.60M209.54 351.80v3.60M224.91 368.20v3.60M226.95 370.73v3.60M228.70 370.73v3.60M230.77 373.20v3.60M235.68 374.40v3.60M236.44 374.77v3.60M237.28 374.77v3.60M238.17 375.13v3.60M243.12 375.96v3.60M241.89 375.96v3.60M248.06 377.34v3.60M251.05 377.80v3.60M253.13 378.26v3.60M253.92 378.26v3.60M256.40 378.71v3.60M256.31 378.71v3.60M257.22 378.71v3.60M261.02 380.08v3.60M261.33 380.08v3.60M262.33 380.08v3.60M263.55 380.53v3.60M263.01 380.53v3.60M264.13 380.53v3.60M267.07 380.99v3.60M268.63 381.44v3.60M268.80 381.44v3.60M270.05 381.90v3.60M270.43 381.90v3.60M274.45 382.14v3.60M274.16 382.14v3.60M274.31 382.14v3.60M276.50 382.39v3.60M275.49 382.39v3.60M277.83 382.63v3.60M278.66 382.87v3.60M279.80 382.87v3.60M278.91 382.87v3.60M281.64 383.11v3.60M283.29 383.36v3.60M286.62 383.60v3.60M284.84 383.60v3.60M287.12 383.84v3.60M288.31 383.84v3.60M287.98 383.84v3.60M289.90 384.09v3.60M291.18 384.33v3.60M293.58 384.57v3.60M294.71 384.57v3.60M295.95 384.81v3.60M297.12 384.81v3.60M295.84 384.81v3.60M299.57 385.06v3.60M301.66 385.30v3.60M301.21 385.30v3.60M304.10 385.69v3.60M302.65 385.69v3.60M303.74 385.69v3.60M304.82 386.07v3.60M307.45 386.46v3.60M306.44 386.46v3.60M309.82 386.85v3.60M309.82 386.85v3.60M311.61 387.24v3.60M311.56 387.24v3.60M313.18 387.62v3.60M313.04 387.62v3.60M316.57 388.01v3.60M318.73 388.40v3.60M317.56 388.40v3.60M318.90 389.57v3.60M318.95 389.57v3.60M320.95 390.75v3.60M323.28 390.75v3.60M321.10 390.75v3.60M324.37 391.92v3.60M326.12 393.10v3.60M325.22 393.10v3.60M327.93 393.32v3.60M329.23 393.54v3.60M329.71 393.54v3.60M331.85 393.77v3.60M333.58 393.77v3.60M332.62 393.77v3.60M335.04 393.99v3.60M333.88 393.99v3.60M335.93 394.21v3.60M336.62 394.21v3.60M339.27 394.43v3.60M338.38 394.43v3.60M340.21 394.66v3.60M340.10 394.66v3.60M342.76 394.88v3.60M342.64 394.88v3.60M348.72 422.10v3.60M345.22 422.10v3.60M346.56 422.10v3.60M344.95 422.10v3.60M349.45 422.10v3.60M346.80 422.10v3.60M348.60 422.10v3.60" stroke="#f7941d" stroke-width="1.2"/>
<path d="M203.40 348.80H205.19V349.30H207.70V349.80H210.50V350.75H212.50V351.70H214.92V353.15H216.30V354.60H218.30V359.40H219.20V363.20H221.70V365.15H223.10V367.10H225.45V369.50H227.90V371.90H230.45V373.17H231.91V374.43H233.70V375.70H235.60V376.67H238.11V377.63H240.40V378.60H243.16V379.33H245.59V380.05H246.98V380.77H250.00V381.50H251.96V383.15H255.00V384.80H257.83V385.13H258.70V385.46H261.90V385.79H263.33V386.11H265.34V386.44H267.49V386.77H270.00V387.10H272.17V387.59H275.21V388.08H276.12V388.57H279.44V389.06H280.83V389.54H282.82V390.03H285.94V390.52H287.53V391.01H290.00V391.50H291.78V391.69H294.42V391.88H297.33V392.07H299.67V392.26H301.48V392.45H302.86V392.65H306.33V392.84H308.35V393.03H311.09V393.22H313.45V393.41H315.00V393.60H317.20V395.60H320.00V397.60H322.67V398.09H324.76V398.57H326.08V399.06H328.37V399.54H330.53V400.03H332.64V400.51H335.00V401.00H348.00" fill="none" stroke="#5b2981" stroke-width="1.5" stroke-linejoin="miter"/>
<path d="M218.52 357.60v3.60M219.77 361.40v3.60M222.74 363.35v3.60M231.42 371.37v3.60M233.15 372.63v3.60M233.55 372.63v3.60M234.52 373.90v3.60M236.50 374.87v3.60M239.10 375.83v3.60M242.97 376.80v3.60M241.23 376.80v3.60M242.42 376.80v3.60M245.59 377.53v3.60M247.60 378.97v3.60M251.88 379.70v3.60M251.83 379.70v3.60M253.25 381.35v3.60M252.75 381.35v3.60M256.45 383.00v3.60M255.26 383.00v3.60M255.96 383.00v3.60M258.04 383.33v3.60M259.26 383.66v3.60M261.59 383.66v3.60M260.57 383.66v3.60M262.92 383.99v3.60M262.29 383.99v3.60M263.44 384.31v3.60M264.22 384.31v3.60M267.05 384.64v3.60M265.64 384.64v3.60M269.99 384.97v3.60M269.41 384.97v3.60M267.99 384.97v3.60M271.34 385.30v3.60M270.35 385.30v3.60M272.76 385.79v3.60M273.70 385.79v3.60M273.63 385.79v3.60M275.65 386.28v3.60M276.78 386.77v3.60M276.60 386.77v3.60M276.36 386.77v3.60M280.00 387.26v3.60M280.03 387.26v3.60M281.61 387.74v3.60M282.55 387.74v3.60M285.47 388.23v3.60M283.93 388.23v3.60M285.69 388.23v3.60M286.41 388.72v3.60M286.99 388.72v3.60M287.89 389.21v3.60M289.63 389.21v3.60M288.99 389.21v3.60M291.68 389.70v3.60M290.71 389.70v3.60M294.15 389.89v3.60M291.85 389.89v3.60M295.86 390.08v3.60M297.02 390.08v3.60M295.97 390.08v3.60M298.45 390.27v3.60M298.24 390.27v3.60M299.17 390.27v3.60M300.37 390.46v3.60M301.32 390.46v3.60M301.94 390.65v3.60M305.25 390.85v3.60M303.53 390.85v3.60M305.65 390.85v3.60M306.44 391.04v3.60M307.81 391.04v3.60M310.94 391.23v3.60M310.88 391.23v3.60M310.88 391.23v3.60M312.85 391.42v3.60M312.00 391.42v3.60M314.62 391.61v3.60M314.96 391.61v3.60M315.27 391.80v3.60M316.56 391.80v3.60M317.65 393.80v3.60M318.90 393.80v3.60M320.96 395.80v3.60M321.16 395.80v3.60M320.68 395.80v3.60M324.75 396.29v3.60M323.03 396.29v3.60M322.99 396.29v3.60M324.84 396.77v3.60M325.66 396.77v3.60M327.89 397.26v3.60M327.11 397.26v3.60M329.10 397.74v3.60M330.40 397.74v3.60M331.71 398.23v3.60M330.90 398.23v3.60M331.98 398.23v3.60M334.49 398.71v3.60M332.65 398.71v3.60M333.62 398.71v3.60M344.47 399.20v3.60M347.48 399.20v3.60M347.08 399.20v3.60M339.11 399.20v3.60M338.50 399.20v3.60M345.30 399.20v3.60M345.68 399.20v3.60M343.94 399.20v3.60M344.85 399.20v3.60M342.94 399.20v3.60M346.15 399.20v3.60M338.58 399.20v3.60M336.08 399.20v3.60" stroke="#5b2981" stroke-width="1.2"/>
<path d="M60.00 141.40H75.90M68.30 139.00V143.80" stroke="#c8203c" stroke-width="1.5" fill="none"/>
<text x="78.80" y="144.10" font-size="7" stroke="#231f20" stroke-width="0.12">R, R131R</text>
<path d="M60.00 149.94H75.90M68.30 147.54V152.34" stroke="#2a5d92" stroke-width="1.5" fill="none"/>
<text x="78.80" y="152.64" font-size="7" stroke="#231f20" stroke-width="0.12">R, R131H</text>
<path d="M60.00 158.48H75.90M68.30 156.08V160.88" stroke="#45b852" stroke-width="1.5" fill="none"/>
<text x="78.80" y="161.18" font-size="7" stroke="#231f20" stroke-width="0.12">R, H131H</text>
<path d="M60.00 167.02H75.90M68.30 164.62V169.42" stroke="#5b2981" stroke-width="1.5" fill="none"/>
<text x="78.80" y="169.72" font-size="7" stroke="#231f20" stroke-width="0.12">G, R131R</text>
<path d="M60.00 175.56H75.90M68.30 173.16V177.96" stroke="#f7941d" stroke-width="1.5" fill="none"/>
<text x="78.80" y="178.26" font-size="7" stroke="#231f20" stroke-width="0.12">G, R131H</text>
<path d="M60.00 184.10H75.90M68.30 181.70V186.50" stroke="#1d6e5b" stroke-width="1.5" fill="none"/>
<text x="78.80" y="186.80" font-size="7" stroke="#231f20" stroke-width="0.12">G, H131H</text>
<path d="M326.00 141.40H341.90M334.30 139.00V143.80" stroke="#c8203c" stroke-width="1.5" fill="none"/>
<text x="344.80" y="144.10" font-size="7" stroke="#231f20" stroke-width="0.12">R, I232I</text>
<path d="M326.00 149.94H341.90M334.30 147.54V152.34" stroke="#2a5d92" stroke-width="1.5" fill="none"/>
<text x="344.80" y="152.64" font-size="7" stroke="#231f20" stroke-width="0.12">R, I232T</text>
<path d="M326.00 158.48H341.90M334.30 156.08V160.88" stroke="#45b852" stroke-width="1.5" fill="none"/>
<text x="344.80" y="161.18" font-size="7" stroke="#231f20" stroke-width="0.12">R, T232T</text>
<path d="M326.00 167.02H341.90M334.30 164.62V169.42" stroke="#5b2981" stroke-width="1.5" fill="none"/>
<text x="344.80" y="169.72" font-size="7" stroke="#231f20" stroke-width="0.12">G, I232I</text>
<path d="M326.00 175.56H341.90M334.30 173.16V177.96" stroke="#f7941d" stroke-width="1.5" fill="none"/>
<text x="344.80" y="178.26" font-size="7" stroke="#231f20" stroke-width="0.12">G, I232T</text>
<path d="M326.00 184.10H341.90M334.30 181.70V186.50" stroke="#1d6e5b" stroke-width="1.5" fill="none"/>
<text x="344.80" y="186.80" font-size="7" stroke="#231f20" stroke-width="0.12">G, T232T</text>
<path d="M201.10 435.10H216.80M209.30 432.70V437.50" stroke="#c8203c" stroke-width="1.5" fill="none"/>
<text x="222.60" y="437.80" font-size="7" stroke="#231f20" stroke-width="0.12">R, F158F</text>
<path d="M201.10 443.64H216.80M209.30 441.24V446.04" stroke="#2a5d92" stroke-width="1.5" fill="none"/>
<text x="222.60" y="446.34" font-size="7" stroke="#231f20" stroke-width="0.12">R, F158V</text>
<path d="M201.10 452.18H216.80M209.30 449.78V454.58" stroke="#45b852" stroke-width="1.5" fill="none"/>
<text x="222.60" y="454.88" font-size="7" stroke="#231f20" stroke-width="0.12">R, V158V</text>
<path d="M201.10 460.72H216.80M209.30 458.32V463.12" stroke="#5b2981" stroke-width="1.5" fill="none"/>
<text x="222.60" y="463.42" font-size="7" stroke="#231f20" stroke-width="0.12">G, F158F</text>
<path d="M201.10 469.26H216.80M209.30 466.86V471.66" stroke="#f7941d" stroke-width="1.5" fill="none"/>
<text x="222.60" y="471.96" font-size="7" stroke="#231f20" stroke-width="0.12">G, F158V</text>
<path d="M201.10 477.80H216.80M209.30 475.40V480.20" stroke="#1d6e5b" stroke-width="1.5" fill="none"/>
<text x="222.60" y="480.50" font-size="7" stroke="#231f20" stroke-width="0.12">G, V158V</text>
<text x="57.20" y="234.40" font-size="7" textLength="30.6" lengthAdjust="spacingAndGlyphs" stroke="#231f20" stroke-width="0.12">No. at risk</text>
<text x="20.20" y="248.70" font-size="7.2" stroke="#231f20" stroke-width="0.12">R, R131R</text>
<text x="67.00" y="248.70" font-size="7.3" text-anchor="middle" stroke="#231f20" stroke-width="0.12">138</text>
<text x="99.40" y="248.70" font-size="7.3" text-anchor="middle" stroke="#231f20" stroke-width="0.12">107</text>
<text x="131.60" y="248.70" font-size="7.3" text-anchor="middle" stroke="#231f20" stroke-width="0.12">86</text>
<text x="163.90" y="248.70" font-size="7.3" text-anchor="middle" stroke="#231f20" stroke-width="0.12">72</text>
<text x="196.20" y="248.70" font-size="7.3" text-anchor="middle" stroke="#231f20" stroke-width="0.12">23</text>
<text x="228.40" y="248.70" font-size="7.3" text-anchor="middle" stroke="#231f20" stroke-width="0.12">6</text>
<text x="20.20" y="256.36" font-size="7.2" stroke="#231f20" stroke-width="0.12">R, R131H</text>
<text x="67.00" y="256.36" font-size="7.3" text-anchor="middle" stroke="#231f20" stroke-width="0.12">282</text>
<text x="99.40" y="256.36" font-size="7.3" text-anchor="middle" stroke="#231f20" stroke-width="0.12">209</text>
<text x="131.60" y="256.36" font-size="7.3" text-anchor="middle" stroke="#231f20" stroke-width="0.12">179</text>
<text x="163.90" y="256.36" font-size="7.3" text-anchor="middle" stroke="#231f20" stroke-width="0.12">161</text>
<text x="196.20" y="256.36" font-size="7.3" text-anchor="middle" stroke="#231f20" stroke-width="0.12">60</text>
<text x="228.40" y="256.36" font-size="7.3" text-anchor="middle" stroke="#231f20" stroke-width="0.12">14</text>
<text x="20.20" y="264.02" font-size="7.2" stroke="#231f20" stroke-width="0.12">R, H131H</text>
<text x="67.00" y="264.02" font-size="7.3" text-anchor="middle" stroke="#231f20" stroke-width="0.12">238</text>
<text x="99.40" y="264.02" font-size="7.3" text-anchor="middle" stroke="#231f20" stroke-width="0.12">181</text>
<text x="131.60" y="264.02" font-size="7.3" text-anchor="middle" stroke="#231f20" stroke-width="0.12">162</text>
<text x="163.90" y="264.02" font-size="7.3" text-anchor="middle" stroke="#231f20" stroke-width="0.12">146</text>
<text x="196.20" y="264.02" font-size="7.3" text-anchor="middle" stroke="#231f20" stroke-width="0.12">60</text>
<text x="228.40" y="264.02" font-size="7.3" text-anchor="middle" stroke="#231f20" stroke-width="0.12">10</text>
<text x="20.20" y="271.68" font-size="7.2" stroke="#231f20" stroke-width="0.12">G, R131R</text>
<text x="67.00" y="271.68" font-size="7.3" text-anchor="middle" stroke="#231f20" stroke-width="0.12">153</text>
<text x="99.40" y="271.68" font-size="7.3" text-anchor="middle" stroke="#231f20" stroke-width="0.12">120</text>
<text x="131.60" y="271.68" font-size="7.3" text-anchor="middle" stroke="#231f20" stroke-width="0.12">105</text>
<text x="163.90" y="271.68" font-size="7.3" text-anchor="middle" stroke="#231f20" stroke-width="0.12">96</text>
<text x="196.20" y="271.68" font-size="7.3" text-anchor="middle" stroke="#231f20" stroke-width="0.12">34</text>
<text x="228.40" y="271.68" font-size="7.3" text-anchor="middle" stroke="#231f20" stroke-width="0.12">8</text>
<text x="20.20" y="279.34" font-size="7.2" stroke="#231f20" stroke-width="0.12">G, R131H</text>
<text x="67.00" y="279.34" font-size="7.3" text-anchor="middle" stroke="#231f20" stroke-width="0.12">313</text>
<text x="99.40" y="279.34" font-size="7.3" text-anchor="middle" stroke="#231f20" stroke-width="0.12">229</text>
<text x="131.60" y="279.34" font-size="7.3" text-anchor="middle" stroke="#231f20" stroke-width="0.12">197</text>
<text x="163.90" y="279.34" font-size="7.3" text-anchor="middle" stroke="#231f20" stroke-width="0.12">182</text>
<text x="196.20" y="279.34" font-size="7.3" text-anchor="middle" stroke="#231f20" stroke-width="0.12">72</text>
<text x="228.40" y="279.34" font-size="7.3" text-anchor="middle" stroke="#231f20" stroke-width="0.12">18</text>
<text x="20.20" y="287.00" font-size="7.2" stroke="#231f20" stroke-width="0.12">G, H131H</text>
<text x="67.00" y="287.00" font-size="7.3" text-anchor="middle" stroke="#231f20" stroke-width="0.12">192</text>
<text x="99.40" y="287.00" font-size="7.3" text-anchor="middle" stroke="#231f20" stroke-width="0.12">149</text>
<text x="131.60" y="287.00" font-size="7.3" text-anchor="middle" stroke="#231f20" stroke-width="0.12">133</text>
<text x="163.90" y="287.00" font-size="7.3" text-anchor="middle" stroke="#231f20" stroke-width="0.12">118</text>
<text x="196.20" y="287.00" font-size="7.3" text-anchor="middle" stroke="#231f20" stroke-width="0.12">56</text>
<text x="228.40" y="287.00" font-size="7.3" text-anchor="middle" stroke="#231f20" stroke-width="0.12">13</text>
<text x="321.50" y="234.60" font-size="7" textLength="30.6" lengthAdjust="spacingAndGlyphs" stroke="#231f20" stroke-width="0.12">No. at risk</text>
<text x="316.00" y="248.70" font-size="7.2" text-anchor="end" stroke="#231f20" stroke-width="0.12">R, I232I</text>
<text x="331.60" y="248.70" font-size="7.3" text-anchor="middle" stroke="#231f20" stroke-width="0.12">396</text>
<text x="363.20" y="248.70" font-size="7.3" text-anchor="middle" stroke="#231f20" stroke-width="0.12">298</text>
<text x="395.60" y="248.70" font-size="7.3" text-anchor="middle" stroke="#231f20" stroke-width="0.12">258</text>
<text x="427.80" y="248.70" font-size="7.3" text-anchor="middle" stroke="#231f20" stroke-width="0.12">228</text>
<text x="460.00" y="248.70" font-size="7.3" text-anchor="middle" stroke="#231f20" stroke-width="0.12">93</text>
<text x="492.00" y="248.70" font-size="7.3" text-anchor="middle" stroke="#231f20" stroke-width="0.12">20</text>
<text x="316.00" y="256.36" font-size="7.2" text-anchor="end" stroke="#231f20" stroke-width="0.12">R, I232T</text>
<text x="331.60" y="256.36" font-size="7.3" text-anchor="middle" stroke="#231f20" stroke-width="0.12">137</text>
<text x="363.20" y="256.36" font-size="7.3" text-anchor="middle" stroke="#231f20" stroke-width="0.12">105</text>
<text x="395.60" y="256.36" font-size="7.3" text-anchor="middle" stroke="#231f20" stroke-width="0.12">96</text>
<text x="427.80" y="256.36" font-size="7.3" text-anchor="middle" stroke="#231f20" stroke-width="0.12">86</text>
<text x="460.00" y="256.36" font-size="7.3" text-anchor="middle" stroke="#231f20" stroke-width="0.12">42</text>
<text x="492.00" y="256.36" font-size="7.3" text-anchor="middle" stroke="#231f20" stroke-width="0.12">9</text>
<text x="316.00" y="264.02" font-size="7.2" text-anchor="end" stroke="#231f20" stroke-width="0.12">R, T232T</text>
<text x="331.60" y="264.02" font-size="7.3" text-anchor="middle" stroke="#231f20" stroke-width="0.12">13</text>
<text x="363.20" y="264.02" font-size="7.3" text-anchor="middle" stroke="#231f20" stroke-width="0.12">9</text>
<text x="395.60" y="264.02" font-size="7.3" text-anchor="middle" stroke="#231f20" stroke-width="0.12">6</text>
<text x="427.80" y="264.02" font-size="7.3" text-anchor="middle" stroke="#231f20" stroke-width="0.12">6</text>
<text x="460.00" y="264.02" font-size="7.3" text-anchor="middle" stroke="#231f20" stroke-width="0.12">3</text>
<text x="492.00" y="264.02" font-size="7.3" text-anchor="middle" stroke="#231f20" stroke-width="0.12">1</text>
<text x="316.00" y="271.68" font-size="7.2" text-anchor="end" stroke="#231f20" stroke-width="0.12">G, I232I</text>
<text x="331.60" y="271.68" font-size="7.3" text-anchor="middle" stroke="#231f20" stroke-width="0.12">377</text>
<text x="363.20" y="271.68" font-size="7.3" text-anchor="middle" stroke="#231f20" stroke-width="0.12">292</text>
<text x="395.60" y="271.68" font-size="7.3" text-anchor="middle" stroke="#231f20" stroke-width="0.12">263</text>
<text x="427.80" y="271.68" font-size="7.3" text-anchor="middle" stroke="#231f20" stroke-width="0.12">235</text>
<text x="460.00" y="271.68" font-size="7.3" text-anchor="middle" stroke="#231f20" stroke-width="0.12">102</text>
<text x="492.00" y="271.68" font-size="7.3" text-anchor="middle" stroke="#231f20" stroke-width="0.12">27</text>
<text x="316.00" y="279.34" font-size="7.2" text-anchor="end" stroke="#231f20" stroke-width="0.12">G, I232T</text>
<text x="331.60" y="279.34" font-size="7.3" text-anchor="middle" stroke="#231f20" stroke-width="0.12">145</text>
<text x="363.20" y="279.34" font-size="7.3" text-anchor="middle" stroke="#231f20" stroke-width="0.12">113</text>
<text x="395.60" y="279.34" font-size="7.3" text-anchor="middle" stroke="#231f20" stroke-width="0.12">95</text>
<text x="427.80" y="279.34" font-size="7.3" text-anchor="middle" stroke="#231f20" stroke-width="0.12">88</text>
<text x="460.00" y="279.34" font-size="7.3" text-anchor="middle" stroke="#231f20" stroke-width="0.12">45</text>
<text x="492.00" y="279.34" font-size="7.3" text-anchor="middle" stroke="#231f20" stroke-width="0.12">11</text>
<text x="316.00" y="287.00" font-size="7.2" text-anchor="end" stroke="#231f20" stroke-width="0.12">G, T232T</text>
<text x="331.60" y="287.00" font-size="7.3" text-anchor="middle" stroke="#231f20" stroke-width="0.12">12</text>
<text x="363.20" y="287.00" font-size="7.3" text-anchor="middle" stroke="#231f20" stroke-width="0.12">7</text>
<text x="395.60" y="287.00" font-size="7.3" text-anchor="middle" stroke="#231f20" stroke-width="0.12">7</text>
<text x="427.80" y="287.00" font-size="7.3" text-anchor="middle" stroke="#231f20" stroke-width="0.12">6</text>
<text x="460.00" y="287.00" font-size="7.3" text-anchor="middle" stroke="#231f20" stroke-width="0.12">3</text>
<text x="492.00" y="287.00" font-size="7.3" text-anchor="middle" stroke="#231f20" stroke-width="0.12">0</text>
<text x="198.10" y="528.20" font-size="7" textLength="30.6" lengthAdjust="spacingAndGlyphs" stroke="#231f20" stroke-width="0.12">No. at risk</text>
<text x="192.60" y="542.50" font-size="7.2" text-anchor="end" stroke="#231f20" stroke-width="0.12">R, F158F</text>
<text x="207.80" y="542.50" font-size="7.3" text-anchor="middle" stroke="#231f20" stroke-width="0.12">285</text>
<text x="240.20" y="542.50" font-size="7.3" text-anchor="middle" stroke="#231f20" stroke-width="0.12">218</text>
<text x="272.50" y="542.50" font-size="7.3" text-anchor="middle" stroke="#231f20" stroke-width="0.12">189</text>
<text x="304.70" y="542.50" font-size="7.3" text-anchor="middle" stroke="#231f20" stroke-width="0.12">163</text>
<text x="336.90" y="542.50" font-size="7.3" text-anchor="middle" stroke="#231f20" stroke-width="0.12">59</text>
<text x="368.80" y="542.50" font-size="7.3" text-anchor="middle" stroke="#231f20" stroke-width="0.12">9</text>
<text x="192.60" y="550.16" font-size="7.2" text-anchor="end" stroke="#231f20" stroke-width="0.12">R, F158V</text>
<text x="207.80" y="550.16" font-size="7.3" text-anchor="middle" stroke="#231f20" stroke-width="0.12">296</text>
<text x="240.20" y="550.16" font-size="7.3" text-anchor="middle" stroke="#231f20" stroke-width="0.12">222</text>
<text x="272.50" y="550.16" font-size="7.3" text-anchor="middle" stroke="#231f20" stroke-width="0.12">187</text>
<text x="304.70" y="550.16" font-size="7.3" text-anchor="middle" stroke="#231f20" stroke-width="0.12">170</text>
<text x="336.90" y="550.16" font-size="7.3" text-anchor="middle" stroke="#231f20" stroke-width="0.12">66</text>
<text x="368.80" y="550.16" font-size="7.3" text-anchor="middle" stroke="#231f20" stroke-width="0.12">18</text>
<text x="192.60" y="557.82" font-size="7.2" text-anchor="end" stroke="#231f20" stroke-width="0.12">R, V158V</text>
<text x="207.80" y="557.82" font-size="7.3" text-anchor="middle" stroke="#231f20" stroke-width="0.12">75</text>
<text x="240.20" y="557.82" font-size="7.3" text-anchor="middle" stroke="#231f20" stroke-width="0.12">56</text>
<text x="272.50" y="557.82" font-size="7.3" text-anchor="middle" stroke="#231f20" stroke-width="0.12">51</text>
<text x="304.70" y="557.82" font-size="7.3" text-anchor="middle" stroke="#231f20" stroke-width="0.12">46</text>
<text x="336.90" y="557.82" font-size="7.3" text-anchor="middle" stroke="#231f20" stroke-width="0.12">18</text>
<text x="368.80" y="557.82" font-size="7.3" text-anchor="middle" stroke="#231f20" stroke-width="0.12">3</text>
<text x="192.60" y="565.48" font-size="7.2" text-anchor="end" stroke="#231f20" stroke-width="0.12">G, F158F</text>
<text x="207.80" y="565.48" font-size="7.3" text-anchor="middle" stroke="#231f20" stroke-width="0.12">306</text>
<text x="240.20" y="565.48" font-size="7.3" text-anchor="middle" stroke="#231f20" stroke-width="0.12">227</text>
<text x="272.50" y="565.48" font-size="7.3" text-anchor="middle" stroke="#231f20" stroke-width="0.12">195</text>
<text x="304.70" y="565.48" font-size="7.3" text-anchor="middle" stroke="#231f20" stroke-width="0.12">179</text>
<text x="336.90" y="565.48" font-size="7.3" text-anchor="middle" stroke="#231f20" stroke-width="0.12">64</text>
<text x="368.80" y="565.48" font-size="7.3" text-anchor="middle" stroke="#231f20" stroke-width="0.12">11</text>
<text x="192.60" y="573.14" font-size="7.2" text-anchor="end" stroke="#231f20" stroke-width="0.12">G, F158V</text>
<text x="207.80" y="573.14" font-size="7.3" text-anchor="middle" stroke="#231f20" stroke-width="0.12">278</text>
<text x="240.20" y="573.14" font-size="7.3" text-anchor="middle" stroke="#231f20" stroke-width="0.12">211</text>
<text x="272.50" y="573.14" font-size="7.3" text-anchor="middle" stroke="#231f20" stroke-width="0.12">189</text>
<text x="304.70" y="573.14" font-size="7.3" text-anchor="middle" stroke="#231f20" stroke-width="0.12">169</text>
<text x="336.90" y="573.14" font-size="7.3" text-anchor="middle" stroke="#231f20" stroke-width="0.12">82</text>
<text x="368.80" y="573.14" font-size="7.3" text-anchor="middle" stroke="#231f20" stroke-width="0.12">21</text>
<text x="192.60" y="580.80" font-size="7.2" text-anchor="end" stroke="#231f20" stroke-width="0.12">G, V158V</text>
<text x="207.80" y="580.80" font-size="7.3" text-anchor="middle" stroke="#231f20" stroke-width="0.12">73</text>
<text x="240.20" y="580.80" font-size="7.3" text-anchor="middle" stroke="#231f20" stroke-width="0.12">60</text>
<text x="272.50" y="580.80" font-size="7.3" text-anchor="middle" stroke="#231f20" stroke-width="0.12">51</text>
<text x="304.70" y="580.80" font-size="7.3" text-anchor="middle" stroke="#231f20" stroke-width="0.12">48</text>
<text x="336.90" y="580.80" font-size="7.3" text-anchor="middle" stroke="#231f20" stroke-width="0.12">17</text>
<text x="368.80" y="580.80" font-size="7.3" text-anchor="middle" stroke="#231f20" stroke-width="0.12">7</text></svg>
</body></html>
